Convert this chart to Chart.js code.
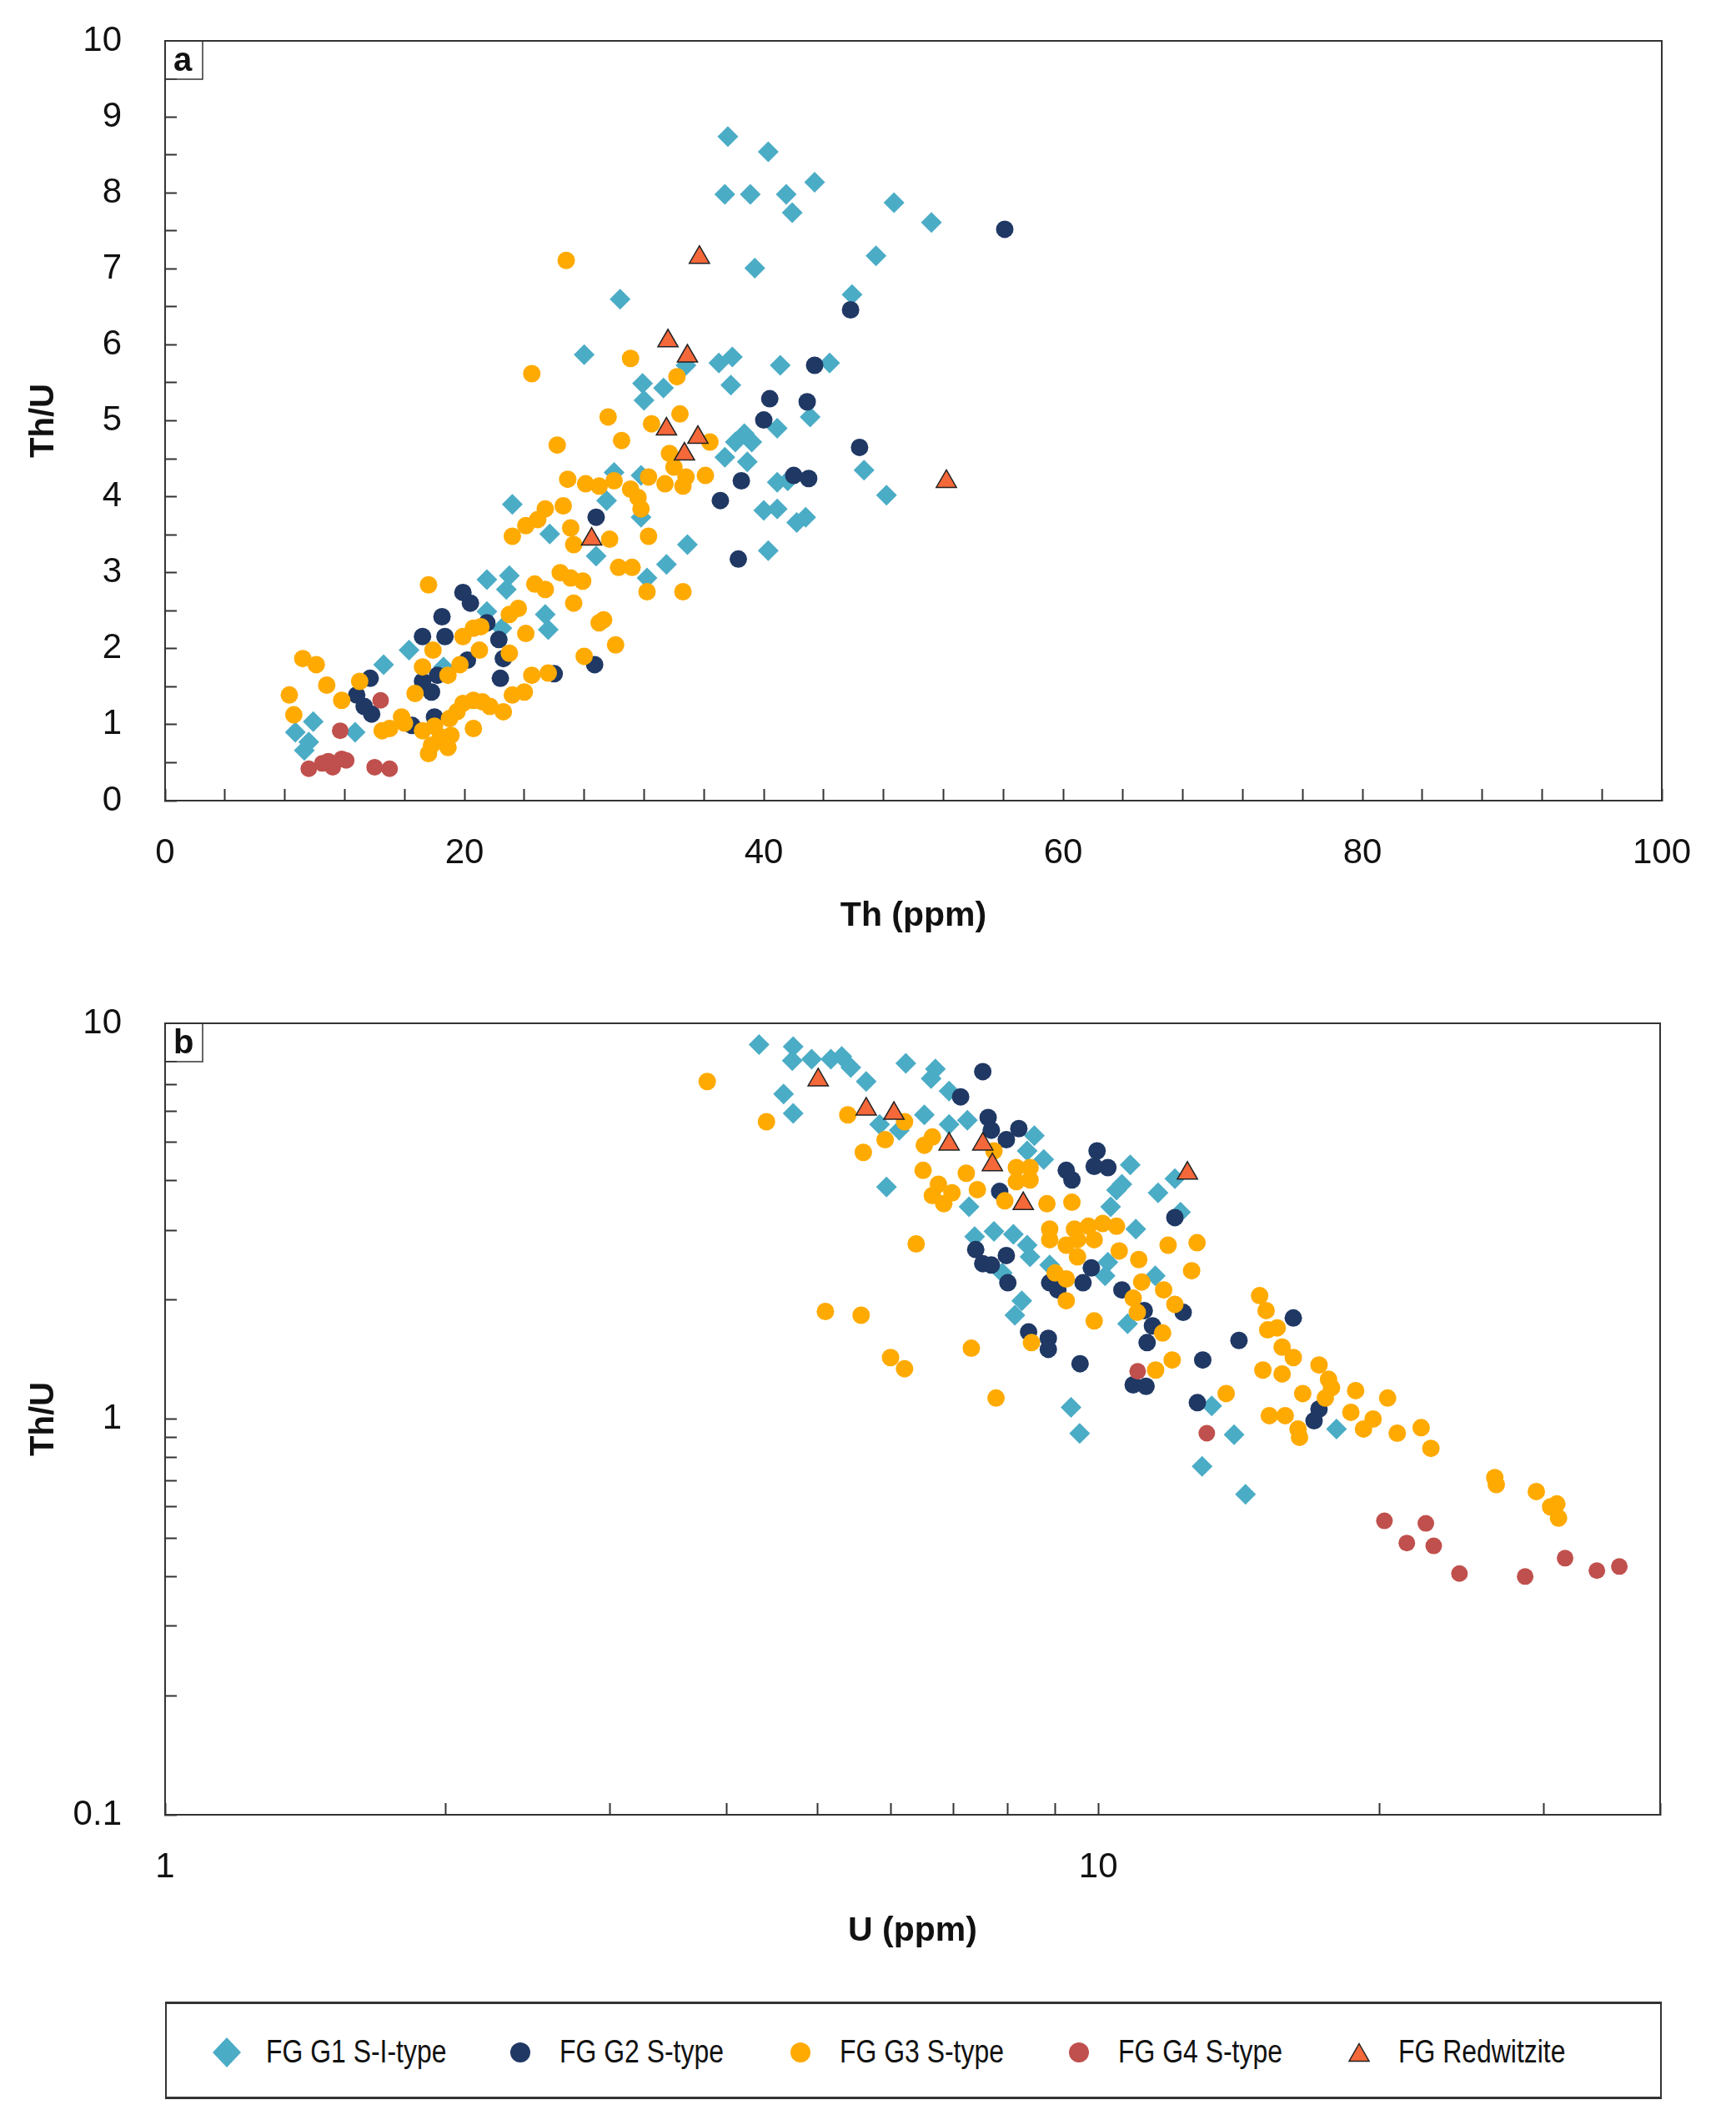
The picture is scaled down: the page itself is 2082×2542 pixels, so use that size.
<!DOCTYPE html>
<html>
<head>
<meta charset="utf-8">
<title>Th/U vs Th and U</title>
<script src="https://cdn.jsdelivr.net/npm/chart.js@4.4.1/dist/chart.umd.min.js"></script>
<style>
  body { margin: 0; background: #fff; }
  #page { position: relative; width: 2082px; height: 2542px; background: #fff; }
  #chartA { position: absolute; left: 0; top: 0; }
  #chartB { position: absolute; left: 0; top: 1160px; }
  #legend {
    position: absolute; left: 198px; top: 2400px; width: 1795px; height: 117px;
    box-sizing: border-box; border: 2px solid #333; border-top-width: 3px; border-bottom-width: 3px;
    font-family: "Liberation Sans", Arial, sans-serif;
  }
  .item { position: absolute; top: 2px; height: 100%; display: flex; align-items: center; }
  .mark { width: 40px; display: flex; justify-content: center; align-items: center; }
  .label { margin-left: 27px; font-size: 38px; color: #111; white-space: nowrap; transform: scaleX(0.84); transform-origin: left center; }
</style>
</head>
<body>
<div id="page">
  <canvas id="chartA" width="2082" height="1160"></canvas>
  <canvas id="chartB" width="2082" height="1220"></canvas>
  <div id="legend"></div>
</div>
<script>
// ---- data: [x, Th/U] pairs ----
const seriesLabels = ['FG G1 S-I-type', 'FG G2 S-type', 'FG G3 S-type', 'FG G4 S-type', 'FG Redwitzite'];

// panel a: Th (ppm) vs Th/U
const g1PanelA = [[8.7,0.90],[9.9,1.04],[9.6,0.77],[9.3,0.66],[12.7,0.90],[14.6,1.79],[16.3,1.98],[18.6,1.76],[21.5,2.91],[23.0,2.96],[22.8,2.78],[21.5,2.49],[22.5,2.27],[25.4,2.45],[25.6,2.25],[25.7,3.51],[23.2,3.90],[28.8,3.22],
  [28.0,5.87],[31.9,5.49],[32.0,5.27],[33.3,5.43],[34.8,5.73],[37.0,5.76],[37.9,5.84],[41.1,5.73],[44.4,5.76],[37.8,5.47],[40.9,4.90],[43.1,5.05],[38.7,4.83],[39.2,4.72],[38.1,4.72],[37.4,4.52],[38.9,4.46],[46.7,4.35],[40.9,4.19],[41.6,4.21],[40.0,3.82],[40.9,3.84],[42.2,3.66],[42.8,3.73],[40.3,3.29],[34.9,3.37],[33.5,3.11],[32.2,2.93],[30.0,4.32],[31.8,4.28],[29.5,3.95],[31.8,3.73],
  [37.6,8.74],[40.3,8.54],[37.4,7.98],[39.1,7.98],[41.5,7.98],[43.4,8.14],[41.9,7.74],[48.7,7.87],[51.2,7.61],[39.4,7.01],[47.5,7.17],[45.9,6.66],[30.4,6.60],[48.2,4.02]];
const g2PanelA = [[13.7,1.61],[12.8,1.39],[13.3,1.24],[13.8,1.14],[19.9,2.74],[20.4,2.60],[18.5,2.42],[17.2,2.16],[18.7,2.16],[17.2,1.57],[17.8,1.43],[18.2,1.65],[20.2,1.85],[21.5,2.34],[22.3,2.12],[22.4,1.61],[22.6,1.87],[18.0,1.10],[16.5,0.99],[26.0,1.67],[28.7,1.79],[28.8,3.73],
  [43.4,5.73],[40.4,5.29],[42.9,5.25],[40.0,5.01],[46.4,4.65],[38.5,4.21],[42.0,4.28],[43.0,4.24],[37.1,3.95],[38.3,3.18],[56.1,7.52],[45.8,6.46]];
const g3PanelA = [[9.2,1.87],[10.1,1.79],[8.3,1.39],[8.6,1.13],[10.8,1.52],[11.8,1.32],[13.0,1.57],[17.6,2.84],[17.9,1.98],[17.2,1.76],[16.7,1.41],[15.0,0.95],[15.8,1.10],[14.5,0.92],[17.2,0.92],[17.8,0.73],[17.6,0.62],[18.4,0.84],[18.9,0.70],[18.9,1.65],[19.7,1.79],[19.9,2.16],[20.6,2.27],[21.1,2.29],[21.0,1.98],[19.5,1.17],[19.9,1.28],[20.6,1.32],[21.7,1.24],[22.6,1.17],[23.2,1.39],[24.0,1.43],[20.6,0.95],[23.0,1.94],[23.0,2.45],[23.6,2.53],[24.1,2.20],[24.7,2.85],[25.4,2.78],[23.2,3.48],[24.1,3.62],[24.9,3.70],[25.4,3.84],[26.4,3.00],[27.1,2.93],[27.9,2.89],[27.3,2.60],[28.0,1.90],[24.5,1.65],[25.6,1.68],[27.1,3.59],[27.3,3.37],[26.6,3.88],[29.0,2.34],
  [18.0,0.98],[19.1,0.86],[16.0,1.02],[21.2,1.30],[19.0,1.08],
  [24.5,5.62],[31.1,5.82],[34.2,5.58],[29.6,5.05],[34.4,5.09],[32.5,4.96],[26.2,4.68],[30.5,4.74],[36.4,4.72],[33.7,4.57],[34.0,4.39],[34.8,4.26],[34.6,4.14],[36.1,4.28],[32.3,4.26],[33.4,4.17],[26.9,4.23],[28.1,4.17],[29.0,4.14],[30.0,4.21],[31.1,4.10],[31.6,3.99],[31.8,3.84],[32.3,3.48],[30.3,3.07],[31.2,3.07],[34.6,2.75],[32.2,2.75],[30.1,2.05],[29.3,2.38],[29.7,3.44],[26.8,7.11]];
const g4PanelA = [[9.6,0.42],[10.5,0.49],[11.2,0.44],[11.8,0.55],[12.1,0.53],[11.7,0.92],[14.4,1.32],[14.0,0.44],[15.0,0.42],[10.9,0.52]];
const redwitzitePanelA = [[35.7,7.15],[33.6,6.05],[34.9,5.85],[33.5,4.89],[35.6,4.78],[34.7,4.56],[28.5,3.44],[52.2,4.20]];

// panel b: U (ppm) vs Th/U
const g1PanelB = [[4.33,8.84],[4.71,8.73],[4.70,8.05],[4.93,8.12],[5.17,8.12],[5.31,8.25],[5.43,7.73],[5.64,7.13],[4.60,6.63],[4.71,5.92],[6.22,7.92],[6.69,7.67],[6.62,7.25],[6.92,6.74],[6.51,5.87],[5.83,5.55],[6.12,5.37],[6.92,5.55],[7.24,5.69],[5.93,3.86],[7.27,3.44],[7.37,2.89],
  [8.54,5.20],[8.74,4.53],[8.39,4.76],[10.82,4.39],[10.60,3.92],[10.46,3.79],[11.59,3.73],[12.08,4.05],[12.25,3.33],[10.31,3.44],[10.97,3.02],[7.73,2.98],[8.11,2.93],[8.39,2.75],[8.45,2.57],[7.89,2.34],[8.28,1.99],[8.14,1.83],[8.87,2.45],[10.17,2.30],[10.24,2.49],[11.51,2.30],[10.75,1.74],
  [13.23,1.08],[13.98,0.913],[12.92,0.759],[14.38,0.645],[18.0,0.944],[9.35,1.07],[9.55,0.92]];
const g2PanelB = [[7.52,7.55],[7.12,6.52],[7.39,2.68],[7.52,2.47],
  [7.62,5.78],[7.68,5.37],[8.22,5.42],[7.97,5.08],[9.97,4.76],[9.90,4.35],[10.24,4.32],[9.24,4.25],[9.37,4.02],[7.84,3.76],[12.08,3.23],[7.97,2.59],[7.68,2.45],[8.00,2.21],[8.87,2.21],[9.05,2.12],[9.63,2.21],[9.83,2.41],[10.60,2.12],[11.20,1.88],[12.33,1.86],[11.43,1.72],[11.28,1.56],[8.42,1.66],[8.84,1.60],[8.84,1.50],[14.15,1.58],[12.94,1.41],[9.56,1.38],
  [16.18,1.80],[12.77,1.10],[17.24,1.06],[17.03,0.99],[11.25,1.21],[10.9,1.22]];
const g3PanelB = [[3.81,7.13],[4.41,5.64],[5.39,5.87],[5.60,4.72],[5.91,5.08],[6.20,5.64],[6.51,4.92],[6.64,5.16],[6.49,4.25],[6.74,3.92],[6.64,3.67],[6.83,3.50],[6.97,3.73],[7.22,4.18],[7.42,3.80],[6.38,2.77],
  [5.10,1.87],[5.57,1.83],[5.99,1.43],[6.20,1.34],[7.31,1.51],[7.77,1.13],
  [7.73,4.76],[8.17,4.32],[8.45,4.32],[8.17,3.98],[8.45,4.02],[7.94,3.56],[8.81,3.50],[9.37,3.53],[8.87,3.02],[8.87,2.84],[9.43,3.02],[9.76,3.07],[10.11,3.12],[10.46,3.07],[9.50,2.84],[9.90,2.84],[9.24,2.75],[9.50,2.57],[10.53,2.66],[11.05,2.53],[11.88,2.75],[12.76,2.79],[12.59,2.37],[8.99,2.34],[9.24,2.26],[9.24,1.99],[11.13,2.22],[11.75,2.12],[10.90,2.02],[11.01,1.86],[12.08,1.95],[11.72,1.65],[9.90,1.77],[8.48,1.56],[12.0,1.41],
  [14.89,2.05],[15.13,1.88],[15.19,1.68],[15.55,1.70],[15.74,1.52],[16.18,1.43],[15.01,1.33],[15.74,1.30],[17.24,1.37],[17.65,1.26],[17.78,1.20],[16.56,1.16],[17.51,1.13],[18.87,1.18],[20.42,1.13],[15.25,1.02],[15.86,1.02],[16.37,0.944],[16.43,0.899],[18.65,1.04],[19.24,0.944],[19.70,1.0],[20.91,0.921],[22.18,0.951],[22.72,0.843],[26.60,0.711],[26.7,0.683],[29.47,0.656],[31.0,0.610],[30.53,0.60],[31.13,0.562],[13.71,1.16],[11.52,1.33]];
const g4PanelB = [[11.02,1.32],[13.07,0.921],[20.26,0.553],[22.44,0.545],[21.41,0.486],[22.88,0.478],[24.38,0.407],[28.67,0.400],[31.64,0.445],[34.22,0.414],[36.17,0.424]];
const redwitzitePanelB = [[5.01,7.19],[5.64,6.07],[6.04,5.92],[6.92,4.95],[7.52,4.95],[7.70,4.39],[8.31,3.50],[12.46,4.18]];

// axis ticks
const uTicks = [1, 2, 3, 4, 5, 6, 7, 8, 9, 10, 20, 30, 40];
const ratioLogTicks = [0.1, 0.2, 0.3, 0.4, 0.5, 0.6, 0.7, 0.8, 0.9, 1, 2, 3, 4, 5, 6, 7, 8, 9, 10];

// ---- styling ----
const FONT = '"Liberation Sans", Arial, sans-serif';
const seriesStyle = [
  { pointStyle: 'rectRot', radius: 12.5, color: '#4bacc6', order: 5 },
  { pointStyle: 'circle', radius: 10.5, color: '#1f3864', order: 4 },
  { pointStyle: 'circle', radius: 10.5, color: '#ffaa00', order: 3 },
  { pointStyle: 'circle', radius: 10, color: '#c0504d', order: 2 },
  { pointStyle: 'triangle', radius: 14, color: '#f4683a', border: '#222', order: 1 }
];

function buildDatasets(seriesData) {
  return seriesData.map((pairs, i) => {
    const s = seriesStyle[i];
    return {
      label: seriesLabels[i],
      data: pairs.map(p => ({ x: p[0], y: p[1] })),
      pointStyle: s.pointStyle,
      pointRadius: s.radius,
      pointHoverRadius: s.radius,
      pointBackgroundColor: s.color,
      pointBorderColor: s.border || s.color,
      pointBorderWidth: s.border ? 1.5 : 0,
      order: s.order,
      showLine: false
    };
  });
}

function isPow10(v) {
  const l = Math.log10(v);
  return Math.abs(l - Math.round(l)) < 1e-6;
}

function axis(extra) {
  return Object.assign({
    border: { display: true, color: '#333', width: 2 },
    grid: { display: true, drawOnChartArea: false, drawTicks: true, tickLength: -14, tickColor: '#333', tickWidth: 2 }
  }, extra);
}

function tickFont() {
  return { family: FONT, size: 42 };
}

// fixed axis sizes; the big tick padding must not push the plot area around
function fitY(s) {
  s.width = 198;
  s.paddingTop = 10;
  s.paddingBottom = 10;
}
function fitX(height) {
  return s => {
    s.height = height;
    s.paddingLeft = 10;
    s.paddingRight = 40;
  };
}

// frame round the plot area and the panel letter in its corner box
const framePlugin = {
  id: 'frame',
  afterDraw(chart, args, opts) {
    const { ctx, chartArea: a } = chart;
    ctx.save();
    ctx.strokeStyle = '#333';
    ctx.lineWidth = 2;
    ctx.strokeRect(a.left, a.top, a.right - a.left, a.bottom - a.top);
    ctx.fillStyle = '#fff';
    ctx.fillRect(a.left + 1, a.top + 1, 44, 44);
    ctx.lineWidth = 1.5;
    ctx.strokeRect(a.left, a.top, 45, 46);
    ctx.fillStyle = '#111';
    ctx.font = 'bold 40px ' + FONT;
    ctx.textBaseline = 'alphabetic';
    ctx.fillText(opts.letter, a.left + 10, a.top + 36);
    ctx.restore();
  }
};

Chart.defaults.font.family = FONT;
Chart.defaults.color = '#111';

function baseOptions(padding, letter, scales) {
  return {
    responsive: false,
    animation: false,
    layout: { padding: padding },
    plugins: {
      legend: { display: false },
      tooltip: { enabled: false },
      frame: { letter: letter }
    },
    scales: scales
  };
}

// ---- panel a ----
new Chart(document.getElementById('chartA'), {
  type: 'scatter',
  data: { datasets: buildDatasets([g1PanelA, g2PanelA, g3PanelA, g4PanelA, redwitzitePanelA]) },
  options: baseOptions({ top: 49, right: 89, bottom: 0, left: 0 }, 'a', {
    x: axis({
      type: 'linear', min: 0, max: 100,
      afterFit: fitX(200),
      ticks: { stepSize: 4, autoSkip: false, maxRotation: 0, padding: 52, color: '#111', font: tickFont(),
        callback: v => (v % 20 === 0 ? String(v) : '') },
      title: { display: true, text: 'Th (ppm)', color: '#111', font: { family: FONT, size: 41, weight: 'bold' }, padding: { bottom: 37 } }
    }),
    y: axis({
      type: 'linear', min: 0, max: 10,
      afterFit: fitY,
      ticks: { stepSize: 0.5, autoSkip: false, padding: 66, color: '#111', font: tickFont(),
        callback: v => (Number.isInteger(v) ? String(v) : '') },
      title: { display: true, text: 'Th/U', color: '#111', font: { family: FONT, size: 40, weight: 'bold' }, padding: { top: 29 } }
    })
  }),
  plugins: [framePlugin]
});

// ---- panel b ----
new Chart(document.getElementById('chartB'), {
  type: 'scatter',
  data: { datasets: buildDatasets([g1PanelB, g2PanelB, g3PanelB, g4PanelB, redwitzitePanelB]) },
  options: baseOptions({ top: 67, right: 91, bottom: 0, left: 0 }, 'b', {
    x: axis({
      type: 'logarithmic', min: 1, max: 40,
      afterBuildTicks: s => { s.ticks = uTicks.map(v => ({ value: v })); },
      afterFit: fitX(204),
      ticks: { autoSkip: false, maxRotation: 0, padding: 52, color: '#111', font: tickFont(),
        callback: v => (isPow10(v) ? String(v) : '') },
      title: { display: true, text: 'U (ppm)', color: '#111', font: { family: FONT, size: 41, weight: 'bold' }, padding: { bottom: 40 } }
    }),
    y: axis({
      type: 'logarithmic', min: 0.1, max: 10,
      afterBuildTicks: s => { s.ticks = ratioLogTicks.map(v => ({ value: v })); },
      afterFit: fitY,
      ticks: { autoSkip: false, padding: 66, color: '#111', font: tickFont(),
        callback: v => (isPow10(v) ? String(v) : '') },
      title: { display: true, text: 'Th/U', color: '#111', font: { family: FONT, size: 40, weight: 'bold' }, padding: { top: 29 } }
    })
  }),
  plugins: [framePlugin]
});

// ---- legend (html) ----
const legendLefts = [52, 404, 740, 1074, 1410];
const legendMarks = [
  '<svg width="34" height="36"><polygon points="17,0 34,18 17,36 0,18" fill="#4bacc6"/></svg>',
  '<svg width="26" height="26"><circle cx="13" cy="13" r="12" fill="#1f3864"/></svg>',
  '<svg width="26" height="26"><circle cx="13" cy="13" r="12" fill="#ffaa00"/></svg>',
  '<svg width="26" height="26"><circle cx="13" cy="13" r="12" fill="#c0504d"/></svg>',
  '<svg width="26" height="24"><polygon points="13,1.5 25,22.5 1,22.5" fill="#f4683a" stroke="#222" stroke-width="1.5"/></svg>'
];
const legend = document.getElementById('legend');
seriesLabels.forEach((text, i) => {
  const item = document.createElement('div');
  item.className = 'item';
  item.style.left = legendLefts[i] + 'px';
  item.innerHTML = '<span class="mark">' + legendMarks[i] + '</span><span class="label">' + text + '</span>';
  legend.appendChild(item);
});
</script>
</body>
</html>
